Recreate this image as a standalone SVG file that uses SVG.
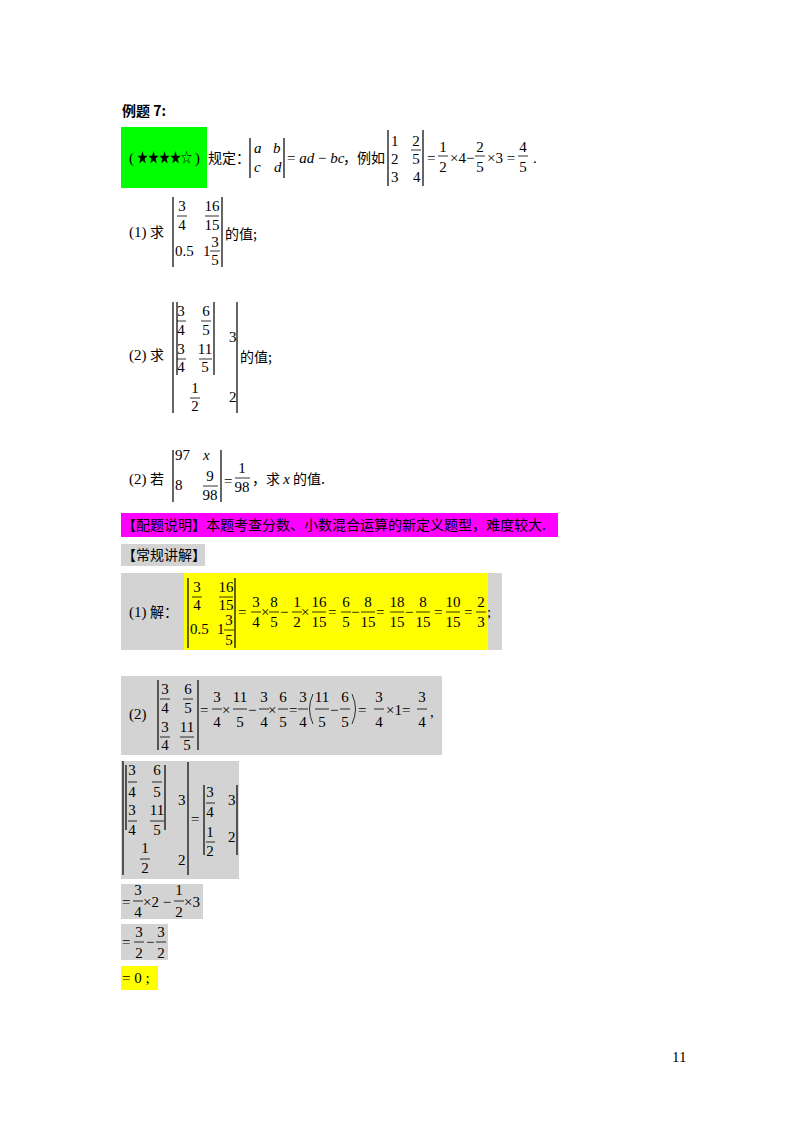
<svg xmlns="http://www.w3.org/2000/svg" width="800" height="1132" viewBox="0 0 800 1132">
<style>
.m{font-family:"Liberation Serif",serif;font-size:15px;fill:#000}
.mi{font-family:"Liberation Serif",serif;font-size:15px;font-style:italic;fill:#000}
.mc{font-family:"Liberation Serif",serif;font-size:15px;fill:#000;text-anchor:middle}
.c{font-family:"Noto Sans CJK SC","Liberation Sans",sans-serif;font-size:14px;fill:#000}
.b{stroke:#000;stroke-width:1.2;fill:none}
.f{stroke:#000;stroke-width:0.8;fill:none}
</style>
<rect width="800" height="1132" fill="#fff"/>
<g id="title"><text x="122" y="116" class="c" font-weight="bold">例题 7:</text></g>
<g id="def">
<rect x="121" y="127" width="86" height="61" fill="#00ff00"/>
<text x="129" y="163" class="m">(</text><text x="137" y="162" class="c" font-size="12" textLength="55" lengthAdjust="spacingAndGlyphs">★★★★☆</text><text x="195" y="163" class="m">)</text>
<text x="208" y="163" class="c">规定：</text>
<path class="b" d="M250 138V178M284 138V178"/>
<text x="254" y="153" class="mi">a</text><text x="273" y="153" class="mi">b</text>
<text x="254" y="172" class="mi">c</text><text x="274" y="172" class="mi">d</text>
<text x="287" y="163" class="m">= <tspan font-style="italic">ad</tspan> − <tspan font-style="italic">bc</tspan></text>
<text x="343" y="163" class="c">，例如</text>
<path class="b" d="M388 130V186M423 130V186"/>
<text x="391" y="146" class="m">1</text><text x="391" y="164" class="m">2</text><text x="391" y="182" class="m">3</text>
<text x="416" y="146" class="mc">2</text><path class="f" d="M411 150H421"/><text x="416" y="164" class="mc">5</text>
<text x="413" y="182" class="m">4</text>
<text x="427" y="163" class="m">=</text>
<text x="443" y="152" class="mc">1</text><path class="f" d="M438 156H448"/><text x="443" y="172" class="mc">2</text>
<text x="450" y="163" class="m">×4−</text>
<text x="480" y="152" class="mc">2</text><path class="f" d="M475 156H485"/><text x="480" y="172" class="mc">5</text>
<text x="487" y="163" class="m">×3 =</text>
<text x="523" y="152" class="mc">4</text><path class="f" d="M518 156H528"/><text x="523" y="172" class="mc">5</text>
<text x="533" y="163" class="m">.</text>
</g>
<g id="q1">
<text x="129" y="237" class="m">(1)</text><text x="150" y="237" class="c">求</text>
<path class="b" d="M173 197V267M222 197V267"/>
<text x="182" y="211" class="mc">3</text><path class="f" d="M177 216H187"/><text x="182" y="230" class="mc">4</text>
<text x="212" y="211" class="mc">16</text><path class="f" d="M205 216H219"/><text x="212" y="230" class="mc">15</text>
<text x="175" y="256" class="m">0.5</text><text x="203" y="256" class="m">1</text>
<text x="215" y="247" class="mc">3</text><path class="f" d="M210 251H220"/><text x="215" y="265" class="mc">5</text>
<text x="225" y="239" class="c">的值;</text>
</g>
<g id="q2">
<text x="129" y="360" class="m">(2)</text><text x="150" y="360" class="c">求</text>
<path class="b" d="M173 302V413M237 302V413M177 302V375M214 302V375"/>
<text x="181" y="316" class="mc">3</text><path class="f" d="M177 321H186"/><text x="181" y="335" class="mc">4</text>
<text x="206" y="316" class="mc">6</text><path class="f" d="M201 321H211"/><text x="206" y="335" class="mc">5</text>
<text x="181" y="354" class="mc">3</text><path class="f" d="M177 359H186"/><text x="181" y="372" class="mc">4</text>
<text x="205" y="354" class="mc">11</text><path class="f" d="M199 359H212"/><text x="205" y="372" class="mc">5</text>
<text x="229" y="342" class="m">3</text>
<text x="195" y="393" class="mc">1</text><path class="f" d="M190 398H200"/><text x="195" y="411" class="mc">2</text>
<text x="229" y="402" class="m">2</text>
<text x="240" y="362" class="c">的值;</text>
</g>
<g id="q3">
<text x="129" y="484" class="m">(2)</text><text x="150" y="484" class="c">若</text>
<path class="b" d="M173 450V502M221 450V502"/>
<text x="175" y="460" class="m">97</text><text x="203" y="460" class="mi">x</text>
<text x="175" y="490" class="m">8</text>
<text x="210" y="481" class="mc">9</text><path class="f" d="M203 486H218"/><text x="210" y="500" class="mc">98</text>
<text x="224" y="486" class="m">=</text>
<text x="242" y="473" class="mc">1</text><path class="f" d="M235 478H250"/><text x="242" y="492" class="mc">98</text>
<text x="252" y="484" class="c">，求 <tspan font-family="Liberation Serif" font-style="italic" font-size="15">x</tspan> 的值.</text>
</g>
<g id="note">
<rect x="121" y="513" width="437" height="24" fill="#ff00ff"/>
<text x="122" y="530" class="c">【配题说明】本题考查分数、小数混合运算的新定义题型，难度较大.</text>
<rect x="121" y="544" width="84" height="22" fill="#d3d3d3"/>
<text x="122" y="560" class="c">【常规讲解】</text>
</g>
<g id="s1">
<rect x="121" y="573" width="381" height="77" fill="#d3d3d3"/>
<rect x="184" y="573" width="304" height="77" fill="#ffff00"/>
<text x="129" y="617" class="m">(1)</text><text x="150" y="617" class="c">解：</text>
<path class="b" d="M188 578V648M235 578V648"/>
<text x="197" y="592" class="mc">3</text><path class="f" d="M192 597H202"/><text x="197" y="610" class="mc">4</text>
<text x="226" y="592" class="mc">16</text><path class="f" d="M219 597H233"/><text x="226" y="610" class="mc">15</text>
<text x="190" y="634" class="m">0.5</text><text x="217" y="634" class="m">1</text>
<text x="229" y="625" class="mc">3</text><path class="f" d="M224 630H234"/><text x="229" y="645" class="mc">5</text>
<g class="m">
<text x="238" y="617">=</text>
<text x="256" y="607" class="mc">3</text><path class="f" d="M251 612H261"/><text x="256" y="627" class="mc">4</text>
<text x="261" y="617">×</text>
<text x="274" y="607" class="mc">8</text><path class="f" d="M269 612H279"/><text x="274" y="627" class="mc">5</text>
<text x="280" y="617">−</text>
<text x="297" y="607" class="mc">1</text><path class="f" d="M292 612H302"/><text x="297" y="627" class="mc">2</text>
<text x="301" y="617">×</text>
<text x="319" y="607" class="mc">16</text><path class="f" d="M312 612H326"/><text x="319" y="627" class="mc">15</text>
<text x="328" y="617">=</text>
<text x="346" y="607" class="mc">6</text><path class="f" d="M341 612H351"/><text x="346" y="627" class="mc">5</text>
<text x="351" y="617">−</text>
<text x="368" y="607" class="mc">8</text><path class="f" d="M361 612H375"/><text x="368" y="627" class="mc">15</text>
<text x="376" y="617">=</text>
<text x="397" y="607" class="mc">18</text><path class="f" d="M390 612H404"/><text x="397" y="627" class="mc">15</text>
<text x="405" y="617">−</text>
<text x="423" y="607" class="mc">8</text><path class="f" d="M416 612H430"/><text x="423" y="627" class="mc">15</text>
<text x="434" y="617">=</text>
<text x="453" y="607" class="mc">10</text><path class="f" d="M446 612H460"/><text x="453" y="627" class="mc">15</text>
<text x="464" y="617">=</text>
<text x="481" y="607" class="mc">2</text><path class="f" d="M476 612H486"/><text x="481" y="627" class="mc">3</text>
<text x="487" y="617">;</text>
</g>
</g>
<g id="s2">
<rect x="121" y="676" width="321" height="79" fill="#d3d3d3"/>
<text x="129" y="719" class="m">(2)</text>
<path class="b" d="M158 680V750M198 680V750"/>
<text x="165" y="694" class="mc">3</text><path class="f" d="M160 699H170"/><text x="165" y="713" class="mc">4</text>
<text x="188" y="694" class="mc">6</text><path class="f" d="M183 699H193"/><text x="188" y="713" class="mc">5</text>
<text x="165" y="732" class="mc">3</text><path class="f" d="M160 737H170"/><text x="165" y="750" class="mc">4</text>
<text x="187" y="732" class="mc">11</text><path class="f" d="M180 737H194"/><text x="187" y="750" class="mc">5</text>
<g class="m">
<text x="200" y="715">=</text>
<text x="217" y="702" class="mc">3</text><path class="f" d="M212 709H222"/><text x="217" y="727" class="mc">4</text>
<text x="222" y="715">×</text>
<text x="240" y="702" class="mc">11</text><path class="f" d="M233 709H247"/><text x="240" y="727" class="mc">5</text>
<text x="248" y="715">−</text>
<text x="264" y="702" class="mc">3</text><path class="f" d="M259 709H269"/><text x="264" y="727" class="mc">4</text>
<text x="268" y="715">×</text>
<text x="283" y="702" class="mc">6</text><path class="f" d="M278 709H288"/><text x="283" y="727" class="mc">5</text>
<text x="289" y="715">=</text>
<text x="303" y="702" class="mc">3</text><path class="f" d="M298 709H308"/><text x="303" y="727" class="mc">4</text>
<path class="f" d="M313 694Q306 709 313 724M352 694Q359 709 352 724"/>
<text x="322" y="702" class="mc">11</text><path class="f" d="M315 709H329"/><text x="322" y="727" class="mc">5</text>
<text x="330" y="715">−</text>
<text x="345" y="702" class="mc">6</text><path class="f" d="M340 709H350"/><text x="345" y="727" class="mc">5</text>
<text x="358" y="715">=</text>
<text x="379" y="702" class="mc">3</text><path class="f" d="M374 709H384"/><text x="379" y="727" class="mc">4</text>
<text x="386" y="715">×1=</text>
<text x="422" y="702" class="mc">3</text><path class="f" d="M417 709H427"/><text x="422" y="727" class="mc">4</text>
<text x="430" y="717">,</text>
</g>
</g>
<g id="s3">
<rect x="121" y="761" width="118" height="118" fill="#d3d3d3"/>
<path class="b" d="M123 761V875M126 765V830M165 765V830M188 762V875M204 785V855M237 785V855"/>
<text x="132" y="775" class="mc">3</text><path class="f" d="M128 782H137"/><text x="132" y="797" class="mc">4</text>
<text x="157" y="775" class="mc">6</text><path class="f" d="M152 782H162"/><text x="157" y="797" class="mc">5</text>
<text x="132" y="815" class="mc">3</text><path class="f" d="M128 821H137"/><text x="132" y="835" class="mc">4</text>
<text x="157" y="815" class="mc">11</text><path class="f" d="M150 821H164"/><text x="157" y="835" class="mc">5</text>
<text x="178" y="805" class="m">3</text>
<text x="145" y="853" class="mc">1</text><path class="f" d="M140 859H150"/><text x="145" y="873" class="mc">2</text>
<text x="178" y="865" class="m">2</text>
<text x="191" y="824" class="m">=</text>
<text x="210" y="797" class="mc">3</text><path class="f" d="M206 803H215"/><text x="210" y="817" class="mc">4</text>
<text x="228" y="805" class="m">3</text>
<text x="210" y="837" class="mc">1</text><path class="f" d="M206 842H215"/><text x="210" y="856" class="mc">2</text>
<text x="228" y="842" class="m">2</text>
</g>
<g id="s4">
<rect x="121" y="884" width="82" height="35" fill="#d3d3d3"/>
<g class="m">
<text x="122" y="907">=</text>
<text x="138" y="895" class="mc">3</text><path class="f" d="M133 901H143"/><text x="138" y="917" class="mc">4</text>
<text x="143" y="907">×2 −</text>
<text x="179" y="895" class="mc">1</text><path class="f" d="M174 901H184"/><text x="179" y="917" class="mc">2</text>
<text x="184" y="907">×3</text>
</g>
<rect x="121" y="924" width="47" height="36" fill="#d3d3d3"/>
<g class="m">
<text x="122" y="947">=</text>
<text x="139" y="937" class="mc">3</text><path class="f" d="M134 942H144"/><text x="139" y="958" class="mc">2</text>
<text x="146" y="947">−</text>
<text x="161" y="937" class="mc">3</text><path class="f" d="M156 942H166"/><text x="161" y="958" class="mc">2</text>
</g>
<rect x="121" y="966" width="37" height="24" fill="#ffff00"/>
<text x="122" y="983" class="m">= 0 ;</text>
</g>
<text x="672" y="1062" class="m">11</text>
</svg>
